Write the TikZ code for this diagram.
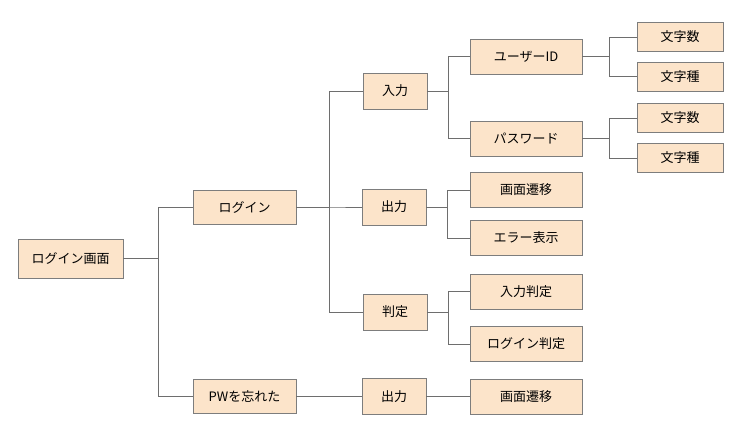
\documentclass[tikz,border=0pt]{standalone}
\usepackage{fontspec}
\setmainfont{Noto Sans CJK JP}
\usetikzlibrary{positioning}
\definecolor{boxfill}{RGB}{252,228,202}
\definecolor{boxline}{RGB}{125,125,125}
\definecolor{wire}{RGB}{110,110,110}
\tikzset{
	box/.style={draw=boxline, fill=boxfill, line width=0.9pt, inner sep=0pt, font=\fontsize{13}{15}\selectfont},
	lvzero/.style={box, minimum width=105pt, minimum height=39pt},
	lvone/.style={box, minimum width=103pt, minimum height=34pt},
	lvtwo/.style={box, minimum width=64pt, minimum height=36pt},
	lvthree/.style={box, minimum width=112pt, minimum height=35pt},
	lvfour/.style={box, minimum width=86pt, minimum height=29pt},
	link/.style={draw=wire, line width=0.9pt, to path={(\tikztostart.east) -- ++(#1,0) |- (\tikztotarget.west)}}
}
\begin{document}
\begin{tikzpicture}[x=1pt,y=-1pt]
			\useasboundingbox (0,0) rectangle (735,430);
			\node[lvzero] (screen) at (70.5,258.5) {ログイン画面};
			\node[lvone] (login) at (244.5,207) {ログイン};
			\node[lvone] (forgot) at (244.5,396.5) {PWを忘れた};
			\node[lvtwo] (input) at (395,91) {入力};
			\node[lvtwo] (output) at (394,207) {出力};
			\node[lvtwo] (judge) at (395,312) {判定};
			\node[lvtwo] (output2) at (394,396.5) {出力};
			\node[lvthree] (userid) at (526,56.5) {ユーザーID};
			\node[lvthree] (password) at (526,138.5) {パスワード};
			\node[lvthree] (trans) at (526,190) {画面遷移};
			\node[lvthree] (error) at (526,238) {エラー表示};
			\node[lvthree] (injudge) at (526,291.5) {入力判定};
			\node[lvthree] (logjudge) at (526,344) {ログイン判定};
			\node[lvthree] (trans2) at (526,396.5) {画面遷移};
			\node[lvfour] (idcount) at (680,37) {文字数};
			\node[lvfour] (idkind) at (680,76.5) {文字種};
			\node[lvfour] (pwcount) at (680,118) {文字数};
			\node[lvfour] (pwkind) at (680,158) {文字種};

			\path[link=35]
			(screen) edge (login)
					 edge (forgot);
			\path[link=33]
			(login) edge (input)
					edge (output)
					edge (judge)
			(forgot) edge (output2);
			\path[link=21]
			(input) edge (userid)
					edge (password)
			(output) edge (trans)
					 edge (error)
			(judge) edge (injudge)
					edge (logjudge)
			(output2) edge (trans2);
			\path[link=27]
			(userid) edge (idcount)
					 edge (idkind)
			(password) edge (pwcount)
					   edge (pwkind);
		\end{tikzpicture}
\end{document}
